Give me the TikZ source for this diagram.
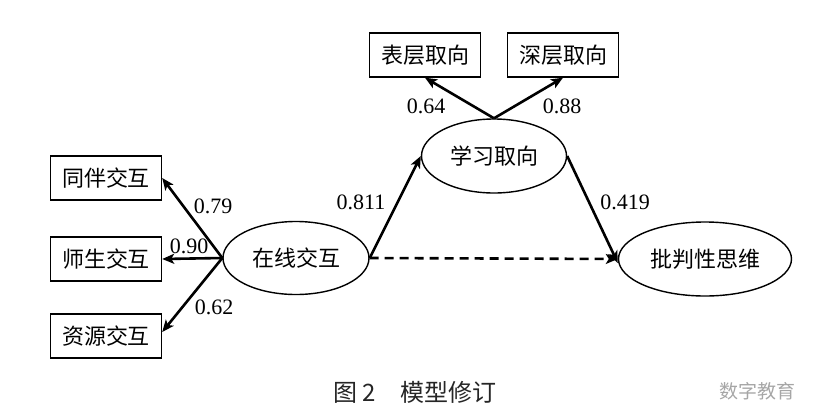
\documentclass[tikz,border=0pt]{standalone}
\usepackage{fontspec}
\setmainfont{Liberation Serif}
\newfontfamily\cjk{Noto Sans CJK SC}
\usetikzlibrary{arrows.meta,shapes.geometric}

\begin{document}
\begin{tikzpicture}[x=1pt,y=-1pt,
  box/.style={draw,line width=1.4pt,minimum width=111pt,minimum height=44pt,
    inner sep=0pt,font=\cjk\fontsize{22}{24}\selectfont},
  latent/.style={draw,ellipse,line width=1.4pt,inner sep=0pt,
    font=\cjk\fontsize{22}{24}\selectfont},
  path/.style={line width=2.6pt,-{Stealth[length=12pt,width=10pt,inset=3pt]}},
  coef/.style={font=\fontsize{22}{24}\selectfont,inner sep=0pt}]

% ----- Page -----
\useasboundingbox (0,0) rectangle (831,416);

% ----- Observed variables -----
\node[box] (peer)    at (106,178) {同伴交互};
\node[box] (teacher) at (106,259) {师生交互};
\node[box] (source)  at (106,336) {资源交互};
\node[box] (surface) at (425,55)  {表层取向};
\node[box] (deep)    at (563,55)  {深层取向};

% ----- Latent variables -----
\node[latent,minimum width=146pt,minimum height=73pt] (online) at (296,258) {在线交互};
\node[latent,minimum width=145pt,minimum height=74pt] (learn)  at (494,156) {学习取向};
\node[latent,minimum width=173pt,minimum height=74pt] (think)  at (705,259) {批判性思维};

% ----- Loadings -----
\draw[path] (online.west) -- (peer.east);
\draw[path] (online.west) -- (teacher.east);
\draw[path] (online.west) -- ([yshift=4pt]source.east);
\draw[path] (learn.north) -- (surface.south);
\draw[path] (learn.north) -- (deep.south);

% ----- Structural paths -----
\draw[path] (online.east) -- (learn.west);
\draw[path] (learn.east) -- ([yshift=-4pt]think.west);
\draw[path,dashed,dash pattern=on 9pt off 6pt] (online.east) -- (think.west);

% ----- Coefficients -----
\node[coef] (c79)  at (213,206) {0.79};
\node[coef] (c90)  at (189,246) {0.90};
\node[coef] (c62)  at (214,307) {0.62};
\node[coef] (c811) at (361,202) {0.811};
\node[coef] (c64)  at (426,106) {0.64};
\node[coef] (c88)  at (562,106) {0.88};
\node[coef] (c419) at (625,202) {0.419};

% ----- Caption -----
\node[anchor=west,text=black!85,font=\cjk\fontsize{24}{26}\selectfont] (caption)
  at (330,392) {图 2\hspace{1em}模型修订};
\node[text=black!35,font=\cjk\fontsize{19}{22}\selectfont] (mark) at (757,391) {数字教育};

\end{tikzpicture}
\end{document}
